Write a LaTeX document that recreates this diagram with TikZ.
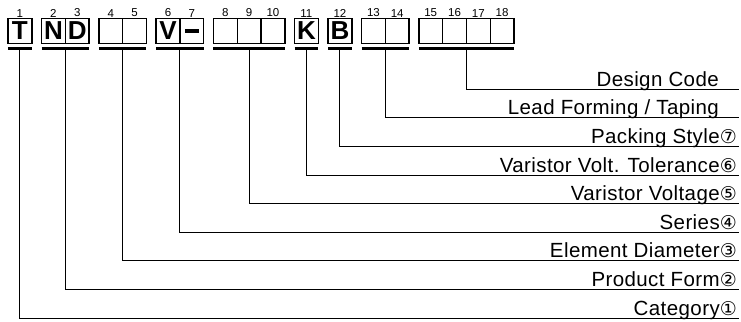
\documentclass[tikz,border=0pt]{standalone}
\usepackage{fontspec}
\setmainfont{Liberation Sans}
\newfontfamily\tagfont[LetterSpace=2]{Liberation Sans}
\newfontfamily\circfont{DejaVu Sans}
\usetikzlibrary{positioning}
\newcommand\circnum[1]{{\circfont\fontsize{19bp}{19bp}\selectfont#1}}

\begin{document}
\begin{tikzpicture}[x=1bp,y=-1bp,node distance=9.7bp,
    cell/.style={draw,line width=1.4bp,minimum width=23.8bp,
                 minimum height=25bp,inner sep=0pt,outer sep=0pt,
                 font=\fontsize{26bp}{26bp}\selectfont\bfseries},
    num/.style={inner sep=1bp,font=\fontsize{11.5bp}{11.5bp}\selectfont},
    bar/.style={line width=3bp},
    lead/.style={line width=0.9bp},
    tag/.style={anchor=base east,inner sep=0pt,
                font=\tagfont\fontsize{20.5bp}{22bp}\selectfont}]
\useasboundingbox (0,0) rectangle (741,321);

  % code boxes
  \node[cell,label={[num]above:1}] (c1) at (19.9,30.8) {T};
  \node[cell,label={[num]above:2}] (c2) [right=of c1] {N};
  \node[cell,label={[num]above:3}] (c3) [right=0pt of c2] {D};
  \node[cell,label={[num]above:4}] (c4) [right=of c3] {};
  \node[cell,label={[num]above:5}] (c5) [right=0pt of c4] {};
  \node[cell,label={[num]above:6}] (c6) [right=of c5] {V};
  \node[cell,label={[num]above:7}] (c7) [right=0pt of c6] {\rule{14bp}{4bp}};
  \node[cell,label={[num]above:8}] (c8) [right=of c7] {};
  \node[cell,label={[num]above:9}] (c9) [right=0pt of c8] {};
  \node[cell,label={[num]above:10}] (c10) [right=0pt of c9] {};
  \node[cell,label={[num]above:11}] (c11) [right=of c10] {K};
  \node[cell,label={[num]above:12}] (c12) [right=of c11] {B};
  \node[cell,label={[num]above:13}] (c13) [right=of c12] {};
  \node[cell,label={[num]above:14}] (c14) [right=0pt of c13] {};
  \node[cell,label={[num]above:15}] (c15) [right=of c14] {};
  \node[cell,label={[num]above:16}] (c16) [right=0pt of c15] {};
  \node[cell,label={[num]above:17}] (c17) [right=0pt of c16] {};
  \node[cell,label={[num]above:18}] (c18) [right=0pt of c17] {};

  % bars under the groups
  \coordinate (g1) at ([yshift=-5.4bp]c1.south);
  \coordinate (g2) at ([yshift=-5.4bp]c2.south east);
  \coordinate (g3) at ([yshift=-5.4bp]c4.south east);
  \coordinate (g4) at ([yshift=-5.4bp]c6.south east);
  \coordinate (g5) at ([yshift=-5.4bp]c9.south);
  \coordinate (g6) at ([yshift=-5.4bp]c11.south);
  \coordinate (g7) at ([yshift=-5.4bp]c12.south);
  \coordinate (g8) at ([yshift=-5.4bp]c13.south east);
  \coordinate (g9) at ([yshift=-5.4bp]c16.south east);
  \draw[bar] (c1.south west |- g1) -- (c1.south east |- g1);
  \draw[bar] (c2.south west |- g2) -- (c3.south east |- g2);
  \draw[bar] (c4.south west |- g3) -- (c5.south east |- g3);
  \draw[bar] (c6.south west |- g4) -- (c7.south east |- g4);
  \draw[bar] (c8.south west |- g5) -- (c10.south east |- g5);
  \draw[bar] (c11.south west |- g6) -- (c11.south east |- g6);
  \draw[bar] (c12.south west |- g7) -- (c12.south east |- g7);
  \draw[bar] (c13.south west |- g8) -- (c14.south east |- g8);
  \draw[bar] (c15.south west |- g9) -- (c18.south east |- g9);

  % labels
  \node[tag] (design) at (719,86.3) {Design Code};
  \node[tag] (lead) at (719,114.9) {Lead Forming / Taping};
  \node[tag] (packing) at (737,143.5) {Packing Style\circnum{⑦}};
  \node[tag] (tolerance) at (737,172.1) {Varistor Volt. Tolerance\circnum{⑥}};
  \node[tag] (voltage) at (737,200.7) {Varistor Voltage\circnum{⑤}};
  \node[tag] (series) at (737,229.3) {Series\circnum{④}};
  \node[tag] (diameter) at (737,257.9) {Element Diameter\circnum{③}};
  \node[tag] (form) at (737,286.5) {Product Form\circnum{②}};
  \node[tag] (category) at (737,315.1) {Category\circnum{①}};

  \coordinate (e9) at (739,89.3);
  \coordinate (e8) at (739,117.9);
  \coordinate (e7) at (739,146.5);
  \coordinate (e6) at (739,175.1);
  \coordinate (e5) at (739,203.7);
  \coordinate (e4) at (739,232.3);
  \coordinate (e3) at (739,260.9);
  \coordinate (e2) at (739,289.5);
  \coordinate (e1) at (739,318.1);

  \draw[lead] (g9) |- (e9);
  \draw[lead] (g8) |- (e8);
  \draw[lead] (g7) |- (e7);
  \draw[lead] (g6) |- (e6);
  \draw[lead] (g5) |- (e5);
  \draw[lead] (g4) |- (e4);
  \draw[lead] (g3) |- (e3);
  \draw[lead] (g2) |- (e2);
  \draw[lead] (g1) |- (e1);
\end{tikzpicture}
\end{document}
